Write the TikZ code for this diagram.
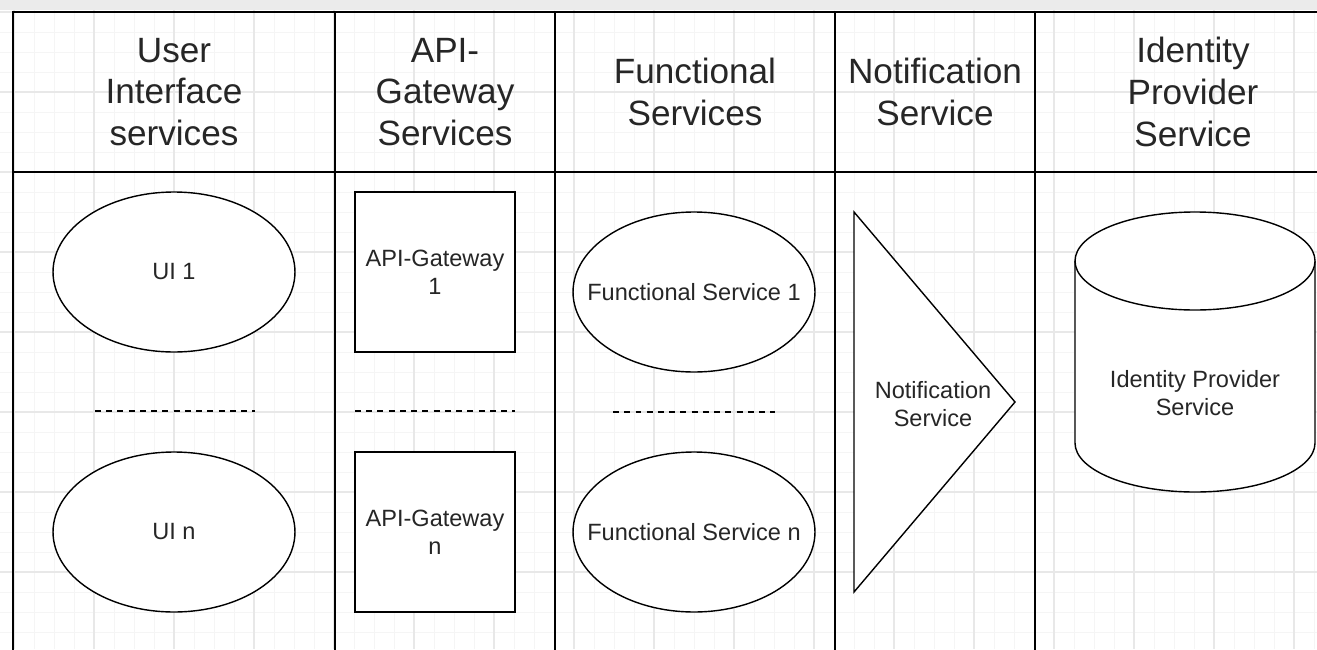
\documentclass[tikz,border=0pt]{standalone}
\usepackage{fontspec}
\setmainfont{Liberation Sans}
\usetikzlibrary{shapes.geometric}

\begin{document}
\begin{tikzpicture}[x=0.02cm, y=-0.02cm,
        gridmin/.style={draw=black!4, line width=0.4pt},
        gridmaj/.style={draw=black!9, line width=0.6pt},
        lane/.style={line width=1.1pt},
        head/.style={align=center, text=black!85, font=\fontsize{20}{23.8}\selectfont},
        lbl/.style={align=center, text=black!85, font=\fontsize{13.4}{15.9}\selectfont},
        uishape/.style={ellipse, draw, fill=white, line width=0.8pt, inner sep=0pt,
            minimum width=4.84cm, minimum height=3.2cm},
        gwbox/.style={rectangle, draw, fill=white, line width=0.8pt, inner sep=0pt,
            minimum width=3.2cm, minimum height=3.2cm},
        more/.style={line width=0.8pt, dash pattern=on 3.4pt off 3pt}]
        \useasboundingbox (0,0) rectangle (1317,649);

        % canvas grid
        \foreach \gx in {14,34,...,1314}
            \draw[gridmin] (\gx,10) -- (\gx,649);
        \foreach \gy in {12,32,...,642}
            \draw[gridmin] (0,\gy) -- (1317,\gy);
        \foreach \gx in {14,94,...,1294}
            \draw[gridmaj] (\gx,10) -- (\gx,649);
        \foreach \gy in {12,92,...,652}
            \draw[gridmaj] (0,\gy) -- (1317,\gy);
        \fill[black!8] (0,0) rectangle (1317,10);

        % swimlanes
        \draw[lane] (13,660) -- (13,12) -- (1330,12);
        \draw[lane] (13,172) -- (1330,172);
        \foreach \lx in {335,555,835,1035}
            \draw[lane] (\lx,12) -- (\lx,660);

        \node[head] (hui) at (174,92) {User\\Interface\\services};
        \node[head] (hgw) at (445,92) {API-\\Gateway\\Services};
        \node[head] (hfs) at (695,92) {Functional\\Services};
        \node[head] (hns) at (935,92) {Notification\\Service};
        \node[head] (hip) at (1193,92) {Identity\\Provider\\Service};

        % user interfaces
        \node[uishape, lbl] (ui1) at (174,272) {UI 1};
        \draw[more] (95,411) -- (255,411);
        \node[uishape, lbl] (uin) at (174,532) {UI n};

        % gateways
        \node[gwbox, lbl] (gw1) at (435,272) {API-Gateway\\1};
        \draw[more] (355,411) -- (515,411);
        \node[gwbox, lbl] (gwn) at (435,532) {API-Gateway\\n};

        % functional services
        \node[uishape, label={[lbl]center:Functional Service 1}] (fs1) at (694,292) {};
        \draw[more] (613,412) -- (775,412);
        \node[uishape, label={[lbl]center:Functional Service n}] (fsn) at (694,532) {};

        % notification service
        \draw[fill=white, line width=0.8pt] (854,212) -- (1015,402) -- (854,592) -- cycle;
        \node[lbl] (ns) at (933,404) {Notification\\Service};

        % identity provider (cylinder)
        \draw[fill=white, line width=0.8pt] (1075,261) -- (1075,443) arc (180:0:120 and 49) -- (1315,261);
        \draw[fill=white, line width=0.8pt] (1195,261) ellipse (120 and 49);
        \node[lbl] (ip) at (1195,393) {Identity Provider\\Service};
    \end{tikzpicture}
\end{document}
